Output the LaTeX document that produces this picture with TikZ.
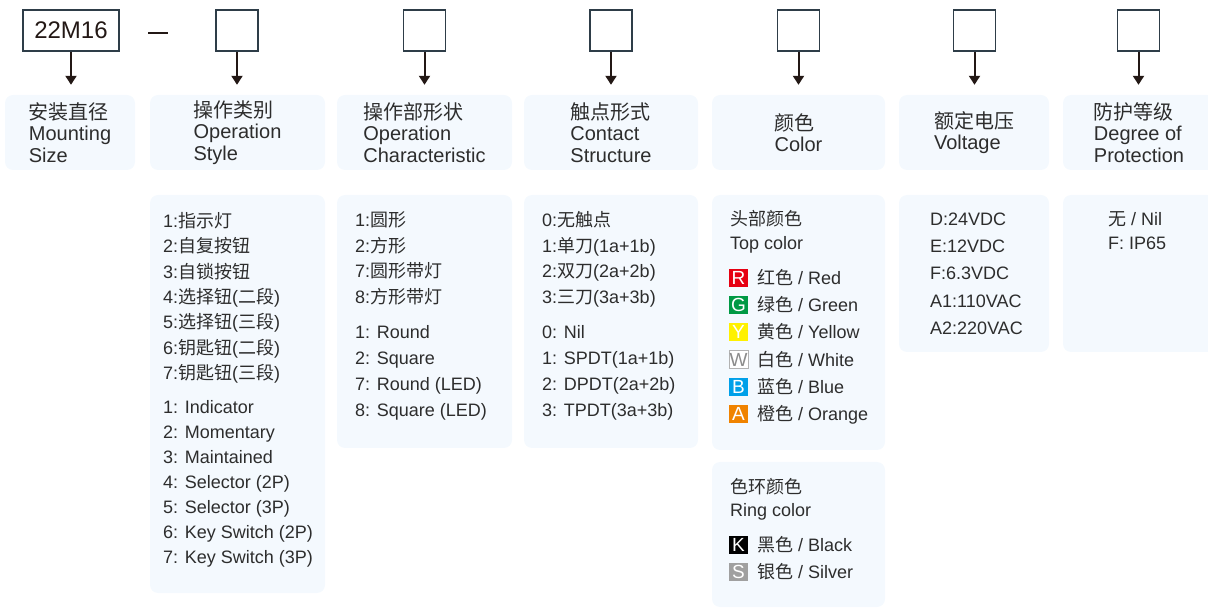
\documentclass[tikz,border=0pt]{standalone}
\usepackage{fontspec}
\setmainfont{Liberation Sans}
\newfontfamily\cjk{Noto Sans CJK SC}
\newcommand\zh[1]{{\cjk #1}}
\usetikzlibrary{arrows.meta}
\definecolor{boxfill}{RGB}{244,249,254}
\definecolor{frameline}{RGB}{46,61,72}
\definecolor{inkline}{RGB}{35,24,21}
\definecolor{textgray}{RGB}{45,45,45}
\definecolor{swR}{RGB}{230,0,18}
\definecolor{swG}{RGB}{0,153,68}
\definecolor{swY}{RGB}{255,241,0}
\definecolor{swB}{RGB}{0,160,233}
\definecolor{swA}{RGB}{240,131,0}
\definecolor{swS}{RGB}{160,160,160}
\tikzset{Code Box/.style = {draw = frameline, line width = 1.3pt, minimum height = 41pt,
    inner sep = 0pt, text = inkline, font = \fontsize{24}{24}\selectfont}}
\tikzset{Head Box/.style = {fill = boxfill, rounded corners = 8pt, minimum height = 75pt,
    align = left, inner sep = 0pt, text = textgray, font = \fontsize{20}{21.5}\selectfont}}
\tikzset{List Box/.style = {fill = boxfill, rounded corners = 8pt}}
\tikzset{Item/.style = {anchor = west, inner sep = 0pt, text height = 15.5pt, text depth = 2.5pt,
    text = textgray, font = \fontsize{18}{21.5}\selectfont}}
\tikzset{Swatch/.style = {minimum width = 19pt, minimum height = 18pt, inner sep = 0pt,
    text = white, font = \fontsize{19}{19}\selectfont}}
\tikzset{Feed/.style = {draw = inkline, line width = 2pt,
    -{Triangle[width = 11pt, length = 9pt]}, shorten > = 10pt}}
\tikzset{sw R/.style = {fill = swR}, sw G/.style = {fill = swG}, sw Y/.style = {fill = swY},
  sw W/.style = {fill = white, draw = gray!60, text = gray!90}, sw B/.style = {fill = swB},
  sw A/.style = {fill = swA}, sw K/.style = {fill = black}, sw S/.style = {fill = swS}}

\begin{document}
\begin{tikzpicture}[x = 1pt, y = -1pt]
  \useasboundingbox (0, 0) rectangle (1208, 609);

  % model code row
  \node[Code Box, minimum width = 96pt] (code) at (71, 30.5) {22M16};
  \draw[inkline, line width = 2.5pt] (148, 33) -- (168, 33);
  \foreach \n/\x in {2/237, 3/424.5, 4/611, 5/798.5, 6/974.5, 7/1138.5}
    \node[Code Box, minimum width = 42pt] (sel\n) at (\x, 30.5) {};

  % headings
  \node[Head Box, minimum width = 130pt] (head1) at (70, 132.5)
    {\zh{安装直径}\\Mounting\\Size};
  \node[Head Box, minimum width = 175pt] (head2) at (237.5, 132.5)
    {\zh{操作类别}\\Operation\\Style};
  \node[Head Box, minimum width = 175pt] (head3) at (424.5, 132.5)
    {\zh{操作部形状}\\Operation\\Characteristic};
  \node[Head Box, minimum width = 174pt] (head4) at (611, 132.5)
    {\zh{触点形式}\\Contact\\Structure};
  \node[Head Box, minimum width = 173pt] (head5) at (798.5, 132.5)
    {\zh{颜色}\\Color};
  \node[Head Box, minimum width = 150pt] (head6) at (974, 132.5)
    {\zh{额定电压}\\Voltage};
  \node[Head Box, minimum width = 152pt] (head7) at (1139, 132.5)
    {\zh{防护等级}\\Degree of\\Protection};

  \draw[Feed] (code.south) -- (code.south |- head1.north);
  \foreach \n in {2, ..., 7}
    \draw[Feed] (sel\n.south) -- (sel\n.south |- head\n.north);

  % option panels
  \fill[List Box] (150, 195) rectangle (325, 593);
  \fill[List Box] (337, 195) rectangle (512, 448);
  \fill[List Box] (524, 195) rectangle (698, 448);
  \fill[List Box] (712, 195) rectangle (885, 450);
  \fill[List Box] (712, 462) rectangle (885, 607);
  \fill[List Box] (899, 195) rectangle (1049, 352);
  \fill[List Box] (1063, 195) rectangle (1215, 352);

  % operation style
  \foreach \t [count = \i from 0] in {1:\zh{指示灯}, 2:\zh{自复按钮}, 3:\zh{自锁按钮},
      4:\zh{选择钮}(\zh{二段}), 5:\zh{选择钮}(\zh{三段}), 6:\zh{钥匙钮}(\zh{二段}),
      7:\zh{钥匙钮}(\zh{三段})}
    \node[Item] (style-zh\i) at (163, 221 + 25.33 * \i) {\t};
  \foreach \t [count = \i from 0] in {1: Indicator, 2: Momentary, 3: Maintained,
      4: Selector (2P), 5: Selector (3P), 6: Key Switch (2P), 7: Key Switch (3P)}
    \node[Item] (style-en\i) at (163, 407 + 25 * \i) {\t};

  % operation characteristic
  \foreach \t [count = \i from 0] in {1:\zh{圆形}, 2:\zh{方形}, 7:\zh{圆形带灯}, 8:\zh{方形带灯}}
    \node[Item] (char-zh\i) at (355, 220 + 25.7 * \i) {\t};
  \foreach \t [count = \i from 0] in {1: Round, 2: Square, 7: Round (LED), 8: Square (LED)}
    \node[Item] (char-en\i) at (355, 332 + 26 * \i) {\t};

  % contact structure
  \foreach \t [count = \i from 0] in {0:\zh{无触点}, 1:\zh{单刀}(1a+1b), 2:\zh{双刀}(2a+2b),
      3:\zh{三刀}(3a+3b)}
    \node[Item] (cont-zh\i) at (542, 220 + 25.7 * \i) {\t};
  \foreach \t [count = \i from 0] in {0: Nil, 1: SPDT(1a+1b), 2: DPDT(2a+2b), 3: TPDT(3a+3b)}
    \node[Item] (cont-en\i) at (542, 332 + 26 * \i) {\t};

  % colours
  \node[Item] (top-zh) at (730, 219) {\zh{头部颜色}};
  \node[Item] (top-en) at (730, 243) {Top color};
  \foreach \l/\zn/\en [count = \i from 0] in {R/红色/Red, G/绿色/Green, Y/黄色/Yellow,
      W/白色/White, B/蓝色/Blue, A/橙色/Orange} {
    \node[Swatch, sw \l] (sw-\l) at (738.5, 278 + 27.2 * \i) {\l};
    \node[Item] (top-\l) at (757, 278 + 27.2 * \i) {\zh{\zn} / \en};
  }
  \node[Item] (ring-zh) at (730, 487) {\zh{色环颜色}};
  \node[Item] (ring-en) at (730, 510) {Ring color};
  \foreach \l/\zn/\en [count = \i from 0] in {K/黑色/Black, S/银色/Silver} {
    \node[Swatch, sw \l] (sw-\l) at (738.5, 545 + 27 * \i) {\l};
    \node[Item] (ring-\l) at (757, 545 + 27 * \i) {\zh{\zn} / \en};
  }

  % voltage
  \foreach \t [count = \i from 0] in {D:24VDC, E:12VDC, F:6.3VDC, A1:110VAC, A2:220VAC}
    \node[Item] (volt\i) at (930, 219 + 27.25 * \i) {\t};

  % protection
  \node[Item] (prot0) at (1108, 219) {\zh{无} / Nil};
  \node[Item] (prot1) at (1108, 243) {F: IP65};
\end{tikzpicture}
\end{document}
